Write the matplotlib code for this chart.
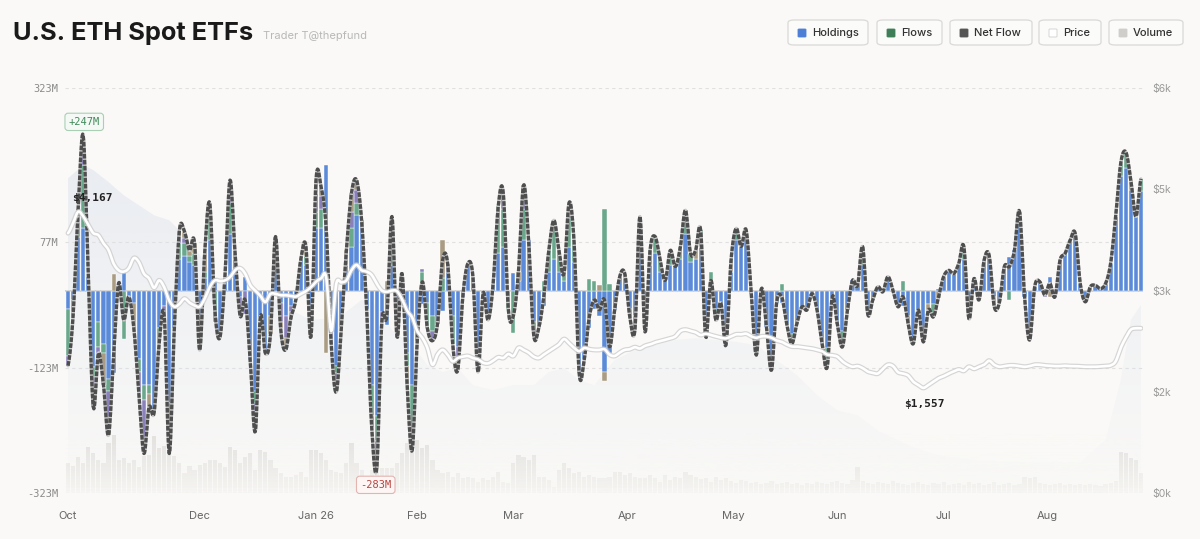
import numpy as np
import matplotlib
matplotlib.use("Agg")
import matplotlib.pyplot as plt
from matplotlib.patches import FancyBboxPatch, PathPatch

plt.rcParams['font.family'] = ['Inter', 'DejaVu Sans']

# ---- data ----
# net daily flow, $M
net = [-120, -40, 130, 247, 22, -186, -100, -150, -231, -105,
       12, -47, -10, -60, -164, -260, -186, -195, -85, -40,
       -260, -60, 95, 94, 64, 75, -95, 60, 139, -30,
       -75, 22, 176, 60, -40, -15, -111, -225, -42, -100,
       -70, 86, -60, -95, -45, -15, 50, 70, -74, 176,
       165, 100, -85, -162, -58, 64, 155, 176, 112, -30,
       -218, -283, -50, -40, 118, -74, 27, -150, -255, -80,
       14, -60, -80, -53, 48, 43, -85, -127, -10, 43,
       22, -130, -5, -47, 11, 134, 155, -30, -40, 30,
       168, 80, -70, -60, -10, 64, 112, 64, 27, 140,
       75, -132, -110, -42, -15, -31, -15, -90, -31, 22,
       27, -42, -63, 118, -66, 64, 86, 48, 16, 64,
       38, 70, 128, 59, 64, 96, -74, 16, -47, -20,
       -87, 48, 99, 70, 96, -5, -103, 3, -58, -127,
       -20, -10, -53, -85, -53, -26, -31, -5, -31, -85,
       -122, -10, -53, -90, -31, 16, 8, 70, -37, -15,
       6, -2, 22, 0, -26, -10, -53, -85, -31, -82,
       -31, -42, -10, 22, 32, 27, 43, 70, -45, 19,
       -15, 48, 56, -25, -20, 38, 38, 64, 126, -10,
       -79, 6, 14, -7, 11, -10, 48, 59, 80, 91,
       11, -18, 6, 8, 3, 11, 43, 118, 203, 221,
       176, 118, 178]

# per-issuer parts other than the largest (blue) one, $M
green = [-75, -20, 25, 100, 0, -16, -40, -15, -20, 0,
         0, -77, 0, 0, -20, -25, -15, 0, -25, 0,
         -80, 0, 25, 20, 10, 20, 0, 10, 40, -50,
         0, 0, 50, 10, 0, 0, 0, -20, 0, 0,
         0, 0, 0, 0, 0, 0, 0, 15, 0, 25,
         30, 0, 0, -12, 0, 0, 30, 20, 0, 0,
         -50, -40, 0, 0, 78, 0, 0, -20, -85, 0,
         30, -40, -25, 0, 20, 0, -45, 0, 0, 0,
         0, 0, 0, 0, 0, 74, 60, -20, -68, 0,
         50, 0, -20, 0, 15, 34, 62, 34, 12, 45,
         30, 0, 0, 18, 15, 0, 130, 10, 0, 0,
         0, -12, -23, 38, -26, 24, 26, 18, 0, 24,
         0, 20, 38, 14, 0, 26, 0, 30, -17, 0,
         0, 0, 19, 0, 0, 0, 0, 0, 0, -17,
         0, 10, 0, -15, 0, 0, 0, 0, 0, 0,
         -30, 0, 0, -15, 0, 0, 0, 30, 0, 0,
         0, 0, 0, 0, 0, 15, 0, 0, 0, 0,
         0, -20, 0, 0, 0, 0, 0, 20, 0, 0,
         0, 0, 0, 0, 0, 0, -15, 0, 10, 0,
         -10, 0, 0, 0, 0, 0, 0, 0, 0, 0,
         0, 0, 0, 0, 0, 0, 0, 0, 20, 25,
         0, 0, 20]

purple = [-16, -5, 15, 30, 0, -48, -10, 0, -40, 0,
          0, 0, 0, 0, -34, -60, 0, 0, 0, -15,
          0, 0, 10, 9, 0, 0, -30, 0, 10, 0,
          0, 0, 25, 0, -30, -37, 0, -25, 0, 0,
          0, 0, -30, -35, -10, 0, 0, 0, -20, 30,
          20, 0, -25, -30, 0, 10, 25, 20, 0, 0,
          -18, -30, -15, 0, 0, -30, 0, 0, 0, 0,
          5, 0, -15, 0, 0, 13, 0, -20, 0, 0,
          0, 0, 0, 0, 0, 0, 25, 0, 0, 0,
          20, 0, 0, 0, 0, 0, 0, 0, 0, 5,
          0, 0, 0, 0, 0, 0, 0, 0, 0, 0,
          0, 0, 0, 0, 0, 0, 0, 0, 0, 0,
          0, 0, 0, 0, 0, 0, -34, 0, 0, 0,
          0, 0, 0, 0, 0, 0, 0, 0, 0, 0,
          0, 0, 0, 0, 0, 0, 0, 0, 0, 0,
          0, 0, 0, 0, 0, 0, 0, 0, 0, 0,
          0, 0, 0, 0, 0, 0, 0, 0, 0, 0,
          0, 0, 0, 0, 0, 0, 0, 0, 0, 0,
          0, 0, 0, 0, 0, 0, 0, 0, 0, 0,
          0, 0, 0, -10, 0, 0, 0, 0, 0, 0,
          0, 0, 0, 0, 0, 0, 0, 0, 0, 0,
          0, 0, 0]

tan = [0, 0, 5, 17, 0, 0, 0, -50, -30, 27,
       0, 0, 0, -40, 0, -25, -21, 0, 0, 0,
       0, 0, 10, 10, 9, 15, -25, 30, 9, 0,
       0, 0, 11, 0, 0, 0, 0, -20, 0, 0,
       -30, 26, -10, -20, -10, 0, 0, 15, -14, 21,
       15, -100, 0, 0, 0, 14, 30, 16, 0, 0,
       0, -13, 0, 15, 0, 0, 0, -30, -20, 0,
       0, 0, 0, 0, 60, 0, 0, -17, 0, 0,
       0, 0, 0, 0, 0, 0, 0, 0, 0, 15,
       18, 0, 0, 0, 0, 0, 0, 0, 0, 20,
       0, 0, 0, 0, 0, 9, -15, 0, 0, 0,
       7, 0, 0, 0, 0, 0, 0, 0, 0, 0,
       0, 0, 0, 0, 14, 0, 0, 0, 0, 0,
       0, 18, 0, 0, 0, 0, 0, 0, 0, 0,
       0, 0, 0, 0, 0, 0, 0, 0, 0, 0,
       0, 0, 0, -10, 0, 0, 0, 0, 0, 0,
       0, 0, 0, 0, 0, 0, -12, 0, 0, 0,
       -10, 0, -12, 0, 0, 0, 0, 0, 0, 0,
       0, 0, 0, -15, 0, 0, 0, 0, 0, 0,
       0, 0, 0, 0, -10, -10, 0, 0, 0, 0,
       0, 0, 0, 0, 0, 0, 0, 0, 0, 0,
       15, 0, 0]

# ETH price, $
price = [3850, 4000, 4167, 4100, 3970, 3850, 3820, 3700, 3600, 3400,
         3300, 3280, 3330, 3480, 3420, 3250, 3180, 3040, 3150, 3050,
         2850, 2760, 2800, 2880, 2820, 2780, 2760, 2880, 3050, 3150,
         3140, 3150, 3200, 3300, 3330, 3250, 3080, 3000, 2920, 2830,
         2950, 2950, 2930, 2930, 2920, 2910, 2950, 2990, 3050, 3130,
         3180, 3200, 2400, 3100, 3120, 3150, 3300, 3380, 3300, 3280,
         3230, 3100, 3000, 2980, 3000, 2990, 2870, 2700, 2600, 2400,
         2300, 2150, 1900, 2050, 2120, 2050, 1950, 2000, 2020, 2030,
         2000, 1980, 1930, 1920, 1960, 2010, 2000, 2060, 2030, 2150,
         2120, 2080, 2020, 2000, 2050, 2100, 2150, 2200, 2280, 2220,
         2150, 2100, 2150, 2130, 2120, 2120, 2130, 2050, 2030, 2080,
         2120, 2130, 2160, 2140, 2180, 2200, 2230, 2250, 2270, 2290,
         2320, 2400, 2420, 2400, 2380, 2340, 2360, 2340, 2320, 2300,
         2290, 2320, 2350, 2350, 2360, 2320, 2300, 2320, 2320, 2300,
         2260, 2240, 2200, 2170, 2170, 2160, 2150, 2140, 2120, 2100,
         2050, 2040, 2020, 1950, 1900, 1870, 1880, 1850, 1800, 1780,
         1770, 1840, 1900, 1880, 1790, 1770, 1740, 1650, 1600, 1557,
         1600, 1650, 1700, 1730, 1770, 1800, 1830, 1810, 1870, 1840,
         1870, 1900, 1960, 1900, 1870, 1880, 1890, 1890, 1880, 1870,
         1880, 1900, 1900, 1890, 1885, 1880, 1880, 1885, 1880, 1880,
         1875, 1870, 1870, 1870, 1875, 1880, 1890, 1950, 2150, 2300,
         2420, 2440, 2440]

# trading volume (relative units)
volume = [30, 27, 36, 30, 46, 40, 33, 30, 50, 58,
          33, 35, 30, 33, 26, 37, 38, 57, 45, 47,
          47, 37, 30, 20, 27, 23, 28, 30, 33, 33,
          30, 26, 46, 43, 30, 36, 40, 23, 43, 41,
          33, 25, 20, 16, 16, 18, 21, 16, 43, 43,
          40, 33, 23, 21, 20, 30, 50, 30, 23, 16,
          23, 23, 25, 25, 25, 30, 40, 50, 53, 53,
          45, 48, 33, 23, 20, 21, 16, 20, 15, 16,
          15, 11, 15, 13, 16, 21, 11, 10, 30, 38,
          36, 33, 38, 16, 16, 13, 6, 23, 30, 25,
          20, 21, 16, 18, 16, 15, 15, 16, 21, 21,
          18, 20, 16, 15, 15, 18, 15, 11, 18, 13,
          16, 15, 21, 18, 16, 14, 15, 11, 16, 13,
          15, 12, 10, 13, 12, 10, 11, 9, 10, 12,
          9, 10, 11, 9, 10, 8, 10, 9, 11, 10,
          9, 11, 12, 10, 9, 13, 26, 12, 10, 9,
          11, 10, 9, 12, 10, 9, 8, 10, 11, 9,
          8, 10, 9, 11, 8, 9, 10, 8, 11, 9,
          10, 8, 9, 11, 8, 9, 10, 8, 9, 16,
          15, 16, 10, 9, 8, 9, 10, 8, 9, 8,
          9, 8, 9, 8, 7, 9, 10, 12, 41, 40,
          35, 33, 20]

# faint background area (left-axis units)
area_idx = [0, 3, 5, 8, 11, 14, 17, 20, 23, 26, 29, 32, 36, 40, 44, 48, 52, 55, 58,
            61, 64, 68, 71, 74, 77, 80, 84, 88, 92, 95, 98, 101, 104, 108, 112,
            116, 120, 124, 128, 132, 136, 140, 144, 148, 152, 156, 160, 166, 172,
            180, 190, 200, 205, 208, 210, 212]
area_val = [179, 200, 192, 173, 152, 136, 120, 112, 88, 57, 17, 1, -2, -7, -31, -47,
            -44, -34, -15, -23, -63, -87, -119, -130, -124, -151, -159, -151, -151,
            -130, -124, -143, -151, -111, -95, -87, -79, -76, -79, -82, -87, -111,
            -135, -167, -191, -199, -223, -247, -263, -271, -274, -274, -238, -143,
            -47, -23]

month_pos = [0, 26, 49, 69, 88, 110.5, 131.5, 152, 173, 193.5]
month_labels = ["Oct", "Dec", "Jan 26", "Feb", "Mar", "Apr", "May", "Jun", "Jul", "Aug"]

for arr in (net, green, purple, tan, price, volume):
    assert len(arr) == 213, len(arr)


def spline(y, k=10):
    # Catmull-Rom curve through the points, for drawing only
    y = np.asarray(y, float)
    p = np.r_[y[0], y, y[-1]]
    t = np.linspace(0, 1, k, endpoint=False)[:, None]
    p0, p1, p2, p3 = p[:-3], p[1:-2], p[2:-1], p[3:]
    seg = 0.5 * (2 * p1 + (-p0 + p2) * t + (2 * p0 - 5 * p1 + 4 * p2 - p3) * t ** 2
                 + (-p0 + 3 * p1 - 3 * p2 + p3) * t ** 3)
    ys = np.r_[seg.T.ravel(), y[-1]]
    xs = np.r_[(np.arange(len(y) - 1)[:, None] + t.T).ravel(), len(y) - 1]
    return xs, ys


BG = "#faf9f7"
W, H = 1200, 539
fig = plt.figure(figsize=(12, 5.39), dpi=100, facecolor=BG)

L, R, T, B = 65, 1143, 88, 493
rect = [L / W, 1 - B / H, (R - L) / W, (B - T) / H]
n = len(net)
x = np.arange(n)
XL = (-0.6, 212.4)

# volume axis in the back
axv = fig.add_axes(rect, zorder=0)
axv.set_facecolor(BG)
axv.bar(x, volume, width=0.82, color="#e4e2de", linewidth=0)
fade = np.zeros((64, 1, 4))
fade[..., :3] = matplotlib.colors.to_rgb(BG)
fade[:, 0, 3] = np.linspace(0.0, 0.85, 64)
axv.imshow(fade, extent=[XL[0], XL[1], 0, 60], aspect="auto", origin="upper", zorder=2)
axv.set_xlim(*XL)
axv.set_ylim(0, 405)
axv.axis("off")

# main flows axis
ax = fig.add_axes(rect, zorder=1)
ax.patch.set_visible(False)

poly = ax.fill_between(area_idx, area_val, -323, color="none", linewidth=0)
grad = np.zeros((128, 1, 4))
grad[..., :3] = (0.80, 0.84, 0.91)
grad[:, 0, 3] = np.linspace(0.36, 0.0, 128)
im = ax.imshow(grad, extent=[XL[0], XL[1], -323, max(area_val)], aspect="auto",
               origin="upper", zorder=1)
clip = PathPatch(poly.get_paths()[0], transform=ax.transData, facecolor="none",
                 edgecolor="none")
ax.add_patch(clip)
im.set_clip_path(clip)

ax.axhline(0, color="#c2c2c2", lw=1.1, zorder=2)

blue = np.array(net) - np.array(green) - np.array(purple) - np.array(tan)
parts = [blue, green, purple, tan]
colors = ["#5b8bd8", "#6aa88b", "#8a80bb", "#a99c82"]
pos = np.zeros(n)
neg = np.zeros(n)
for vals, c in zip(parts, colors):
    v = np.asarray(vals, float)
    up = np.clip(v, 0, None)
    dn = np.clip(v, None, 0)
    m = up > 0
    ax.bar(x[m], up[m], bottom=pos[m], width=0.82, color=c, edgecolor="white",
           linewidth=0.3, zorder=3)
    m = dn < 0
    ax.bar(x[m], dn[m], bottom=neg[m], width=0.82, color=c, edgecolor="white",
           linewidth=0.3, zorder=3)
    pos += up
    neg += dn

xs, ys = spline(net)
ax.plot(xs, ys, color="#c9c9c9", lw=2.4, zorder=4, solid_capstyle="round")
ax.plot(xs, ys, color="#4e4e4e", lw=2.4, dashes=(1.4, 0.4), zorder=5)

ax.set_xlim(*XL)
ax.set_ylim(-323, 323)
ax.set_yticks([-323, -123, 77, 323])
ax.set_yticklabels(["-323M", "-123M", "77M", "323M"], family="DejaVu Sans Mono",
                   fontsize=7.5, color="#8a8a8a")
ax.grid(axis="y", color="#e0e0e0", lw=0.8, ls=(0, (3, 3)), zorder=0)
ax.set_xticks(month_pos)
ax.set_xticklabels(month_labels, fontsize=8, color="#666666")
ax.tick_params(axis="both", length=0)
ax.tick_params(axis="y", pad=5)
ax.tick_params(axis="x", pad=13)
for s in ax.spines.values():
    s.set_visible(False)

ax.text(3.2, 269, "+247M", ha="center", va="center", family="DejaVu Sans Mono",
        fontsize=7.5, color="#3f8a5a", zorder=8,
        bbox=dict(boxstyle="round,pad=0.35,rounding_size=0.3", fc="#f5f9f5",
                  ec="#a9cfb4", lw=0.8))
ax.text(60.8, -310, "-283M", ha="center", va="center", family="DejaVu Sans Mono",
        fontsize=7.5, color="#b8443f", zorder=8,
        bbox=dict(boxstyle="round,pad=0.35,rounding_size=0.3", fc="#fdf6f5",
                  ec="#e4b4b0", lw=0.8))

# price axis
ax2 = ax.twinx()
px, py = spline(price)
ax2.plot(px, py, color="#cdcdcd", lw=3.6, alpha=0.8, solid_capstyle="round")
ax2.plot(px, py, color="white", lw=1.9, solid_capstyle="round")
ax2.set_ylim(0, 6000)
ax2.set_xlim(*XL)
ax2.set_yticks([0, 1500, 3000, 4500, 6000])
ax2.set_yticklabels(["$0k", "$2k", "$3k", "$5k", "$6k"], fontsize=7.5, color="#9a9a9a")
ax2.tick_params(axis="y", length=0, pad=7)
for s in ax2.spines.values():
    s.set_visible(False)
ax2.text(4.9, 4370, "$4,167", ha="center", va="center", family="DejaVu Sans Mono",
         fontsize=8, weight="bold", color="#222222")
ax2.text(169.2, 1318, "$1,557", ha="center", va="center", family="DejaVu Sans Mono",
         fontsize=8, weight="bold", color="#222222")

# title
fig.text(13 / W, 1 - 40 / H, "U.S. ETH Spot ETFs", fontsize=18.3, weight="bold",
         color="#1a1a1a", va="baseline")
fig.text(263 / W, 1 - 39 / H, "Trader T@thepfund", fontsize=8, color="#b8b8b8",
         va="baseline")

# legend buttons
legend = [("Holdings", "#4d7fd6", 788, 80), ("Flows", "#3f7f57", 877, 65),
          ("Net Flow", "#555555", 950, 82), ("Price", "#ffffff", 1039, 62),
          ("Volume", "#cfcecb", 1109, 74)]
for label, c, x0, w in legend:
    fig.patches.append(FancyBboxPatch((x0 / W, 1 - 45 / H), w / W, 25 / H,
                                      boxstyle="round,pad=0,rounding_size=0.005",
                                      transform=fig.transFigure, fc="#fbfbfa",
                                      ec="#d9d9d6", lw=0.9))
    fig.patches.append(FancyBboxPatch(((x0 + 10) / W, 1 - 37 / H), 8 / W, 8 / H,
                                      boxstyle="round,pad=0,rounding_size=0.001",
                                      transform=fig.transFigure, fc=c,
                                      ec="#d0d0d0" if c == "#ffffff" else c, lw=0.6))
    fig.text((x0 + 24) / W, 1 - 33 / H, label, fontsize=8, weight="medium",
             color="#333333", va="center")

fig.savefig("out.png", dpi=100, facecolor=BG)
